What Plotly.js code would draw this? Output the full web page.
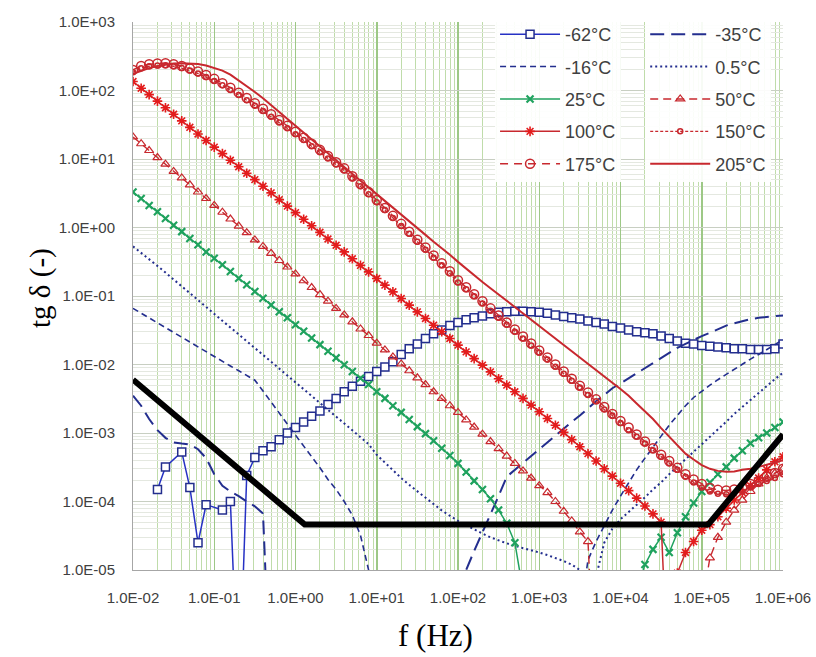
<!DOCTYPE html>
<html>
<head>
<meta charset="utf-8">
<script src="https://cdn.plot.ly/plotly-3.0.1.min.js"></script>
<style>
  html, body { margin: 0; padding: 0; background: #ffffff; }
  #chart { width: 816px; height: 657px; }
</style>
</head>
<body>
<div id="chart"></div>
<script>
// Frequency grid (Hz), 10 points per decade
const FREQ = [
  0.01, 0.0126, 0.0158, 0.02, 0.0251, 0.0316, 0.0398, 0.0501, 0.0631, 0.0794,
  0.1, 0.126, 0.158, 0.2, 0.251, 0.316, 0.398, 0.501, 0.631, 0.794,
  1, 1.26, 1.58, 2, 2.51, 3.16, 3.98, 5.01, 6.31, 7.94,
  10, 12.6, 15.8, 20, 25.1, 31.6, 39.8, 50.1, 63.1, 79.4,
  100, 126, 158, 200, 251, 316, 398, 501, 631, 794,
  1000, 1260, 1580, 2000, 2510, 3160, 3980, 5010, 6310, 7940,
  1e4, 1.26e4, 1.58e4, 2e4, 2.51e4, 3.16e4, 3.98e4, 5.01e4, 6.31e4, 7.94e4,
  1e5, 1.26e5, 1.58e5, 2e5, 2.51e5, 3.16e5, 3.98e5, 5.01e5, 6.31e5, 7.94e5,
  1e6
];

const TD_M62 = [
  null, null, null, 1.5e-4, 3.2e-4, null, 5.3e-4, 1.6e-4, 2.5e-5, 9e-5,
  null, 7.5e-5, 1.0e-4, 1e-7, 2.4e-4, 4.4e-4, 5.5e-4, 6.3e-4, 8.0e-4, 1.0e-3,
  1.2e-3, 1.45e-3, 1.75e-3, 2.1e-3, 2.6e-3, 3.2e-3, 4.0e-3, 4.8e-3, 5.7e-3, 6.7e-3,
  7.9e-3, 9.2e-3, 1.1e-2, 1.4e-2, 1.7e-2, 2.0e-2, 2.4e-2, 2.8e-2, 3.2e-2, 3.7e-2,
  4.1e-2, 4.5e-2, 4.8e-2, 5.1e-2, 5.5e-2, 5.8e-2, 5.9e-2, 6.0e-2, 6.0e-2, 5.9e-2,
  5.8e-2, 5.6e-2, 5.3e-2, 5.0e-2, 4.8e-2, 4.6e-2, 4.3e-2, 4.1e-2, 3.9e-2, 3.6e-2,
  3.4e-2, 3.2e-2, 3.0e-2, 2.9e-2, 2.8e-2, 2.6e-2, 2.4e-2, 2.2e-2, 2.05e-2, 2.0e-2,
  1.9e-2, 1.85e-2, 1.8e-2, 1.75e-2, 1.7e-2, 1.7e-2, 1.65e-2, 1.65e-2, 1.65e-2, 1.7e-2,
  2.0e-2
];

const TD_M35 = [
  3.5e-3, 2.5e-3, 1.6e-3, 1.1e-3, 8.5e-4, 7.3e-4, 7.0e-4, 6.8e-4, 5.8e-4, 4.3e-4,
  2.5e-4, 1.7e-4, 1.4e-4, 1.2e-4, 1.0e-4, 8.5e-5, 6.7e-5, 1e-7, null, null,
  null, null, null, null, null, null, null, null, null, null,
  null, null, null, null, null, null, null, null, null, null,
  3e-7, 1.0e-5, 1.9e-5, 3.5e-5, 6.5e-5, 1.2e-4, 2.3e-4, 2.9e-4, 3.6e-4, 4.6e-4,
  5.8e-4, 7.3e-4, 9.3e-4, 1.16e-3, 1.45e-3, 1.8e-3, 2.3e-3, 2.9e-3, 3.6e-3, 4.5e-3,
  5.3e-3, 6.3e-3, 7.5e-3, 8.9e-3, 1.06e-2, 1.26e-2, 1.5e-2, 1.75e-2, 2.0e-2, 2.3e-2,
  2.6e-2, 2.9e-2, 3.3e-2, 3.7e-2, 4.0e-2, 4.3e-2, 4.6e-2, 4.8e-2, 5.0e-2, 5.1e-2,
  5.2e-2
];

const TD_M16 = [
  6.6e-2, 5.6e-2, 4.8e-2, 4.1e-2, 3.5e-2, 2.95e-2, 2.5e-2, 2.1e-2, 1.8e-2, 1.55e-2,
  1.3e-2, 1.1e-2, 9.5e-3, 8.1e-3, 6.9e-3, 5.9e-3, 4.1e-3, 2.8e-3, 1.95e-3, 1.35e-3,
  9.3e-4, 6.5e-4, 4.5e-4, 3.1e-4, 2.1e-4, 1.5e-4, 1.0e-4, 6.3e-5, 3.2e-5, 1.0e-5,
  1e-7, null, null, null, null, null, null, null, null, null,
  null, null, null, null, null, null, null, null, null, null,
  null, null, null, null, null, 2e-6, 1.4e-5, 2.6e-5, 4.5e-5, 7.5e-5,
  1.2e-4, 1.9e-4, 2.9e-4, 4.3e-4, 6.3e-4, 9e-4, 1.3e-3, 1.8e-3, 2.5e-3, 3.3e-3,
  4.1e-3, 5.0e-3, 6.0e-3, 7.2e-3, 8.6e-3, 1.02e-2, 1.2e-2, 1.4e-2, 1.65e-2, 1.95e-2,
  2.3e-2
];

const TD_P05 = [
  0.53, 0.43, 0.345, 0.275, 0.22, 0.174, 0.138, 0.11, 0.087, 0.069,
  0.055, 0.0437, 0.0347, 0.0275, 0.0219, 0.0174, 0.0138, 0.011, 0.0087, 0.0069,
  5.5e-3, 4.37e-3, 3.47e-3, 2.75e-3, 2.19e-3, 1.74e-3, 1.38e-3, 1.1e-3, 8.7e-4, 6.9e-4,
  4.8e-4, 3.7e-4, 2.8e-4, 2.2e-4, 1.75e-4, 1.4e-4, 1.12e-4, 9e-5, 7.4e-5, 6.2e-5,
  5.2e-5, 4.5e-5, 3.9e-5, 3.4e-5, 3.0e-5, 2.7e-5, 2.45e-5, 2.25e-5, 2.1e-5, 1.95e-5,
  1.8e-5, 1.65e-5, 1.5e-5, 1.35e-5, 1.2e-5, 1.0e-5, 1e-7, 8e-6, 2.5e-5, 4e-5,
  5.5e-5, 7e-5, 9e-5, 1.15e-4, 1.5e-4, 1.9e-4, 2.5e-4, 3.2e-4, 4.1e-4, 5.3e-4,
  6.8e-4, 8.8e-4, 1.13e-3, 1.46e-3, 1.9e-3, 2.4e-3, 3.1e-3, 3.9e-3, 4.9e-3, 6.1e-3,
  7.6e-3
];

const TD_25 = [
  3.3, 2.65, 2.1, 1.7, 1.35, 1.08, 0.87, 0.69, 0.56, 0.44,
  0.355, 0.285, 0.228, 0.182, 0.146, 0.116, 0.093, 0.074, 0.059, 0.048,
  0.038, 0.0305, 0.0244, 0.0195, 0.0156, 0.0125, 0.0099, 0.0079, 0.0063, 0.0051,
  0.0040, 0.0032, 0.0025, 0.0020, 0.00157, 0.00124, 0.00098, 0.00077, 0.0006, 0.00047,
  0.00036, 0.00027, 0.0002, 0.00015, 0.00011, 7.5e-5, 4.8e-5, 2.5e-5, 5e-6, null,
  null, null, null, null, null, null, null, null, null, null,
  null, null, 5e-6, 1.2e-5, 2.0e-5, 3.0e-5, 1.8e-5, 3.5e-5, 6e-5, 9.5e-5,
  1.4e-4, 1.9e-4, 2.5e-4, 3.2e-4, 4.3e-4, 5.5e-4, 7.1e-4, 8.5e-4, 1.0e-3, 1.2e-3,
  1.45e-3
];

const TD_50 = [
  21, 16.7, 13.3, 10.5, 8.4, 6.6, 5.3, 4.2, 3.3, 2.65,
  2.1, 1.67, 1.33, 1.05, 0.84, 0.66, 0.53, 0.42, 0.33, 0.265,
  0.21, 0.167, 0.133, 0.105, 0.084, 0.066, 0.053, 0.042, 0.033, 0.0265,
  0.0205, 0.0163, 0.0129, 0.0102, 0.0081, 0.0064, 0.0051, 0.0040, 0.0032, 0.0025,
  0.0020, 0.00155, 0.00122, 0.00096, 0.00075, 0.00059, 0.00046, 0.00036, 0.00028, 0.00022,
  1.7e-4, 1.35e-4, 1.0e-4, 7.2e-5, 5.2e-5, 3.6e-5, 2.6e-5, 1e-7, null, null,
  null, null, null, null, null, null, null, null, null, null,
  3e-6, 1.5e-5, 3e-5, 5e-5, 7.5e-5, 1.05e-4, 1.4e-4, 1.8e-4, 2.2e-4, 2.6e-4,
  3.0e-4
];

const TD_100 = [
  135, 108, 87, 70, 56, 45, 36, 29, 23.2, 18.6,
  14.9, 12, 9.6, 7.7, 6.2, 5.0, 4.0, 3.2, 2.55, 2.05,
  1.65, 1.32, 1.06, 0.85, 0.68, 0.55, 0.44, 0.35, 0.28, 0.225,
  0.18, 0.144, 0.115, 0.092, 0.0735, 0.0587, 0.047, 0.0375, 0.030, 0.024,
  0.0192, 0.0153, 0.0122, 0.0098, 0.0078, 0.0062, 0.0050, 0.0040, 0.0032, 0.00255,
  0.00204, 0.00163, 0.0013, 0.00102, 0.0008, 0.00063, 0.0005, 0.00039, 0.0003, 0.000235,
  0.000185, 0.000144, 0.000112, 8.6e-5, 6.6e-5, 5e-5, 1e-7, 9e-6, 1.8e-5, 2.6e-5,
  3.8e-5, 4.6e-5, 6e-5, 8e-5, 1.05e-4, 1.35e-4, 1.7e-4, 2.2e-4, 2.9e-4, 3.8e-4,
  4.5e-4
];

const TD_150 = [
  185, 212, 226, 232, 233, 226, 213, 196, 177, 157,
  138, 119, 102, 86, 72, 60, 50, 41.5, 34, 28,
  23, 18.9, 15.4, 12.5, 10.2, 8.3, 6.8, 5.2, 4.0, 3.07,
  2.34, 1.8, 1.38, 1.05, 0.81, 0.62, 0.474, 0.363, 0.28, 0.214,
  0.158, 0.125, 0.099, 0.078, 0.061, 0.048, 0.038, 0.03, 0.024, 0.019,
  0.0149, 0.0118, 0.0093, 0.0073, 0.0058, 0.0046, 0.0036, 0.0029, 0.0022, 0.0018,
  0.0014, 0.0011, 0.00088, 0.0007, 0.00056, 0.00045, 0.00036, 0.00029, 0.00023, 0.00019,
  0.00016, 0.00014, 0.00013, 0.000128, 0.00013, 0.00014, 0.00016, 0.00018, 0.0002, 0.00022,
  0.00025
];

const TD_175 = [
  200, 228, 242, 248, 250, 242, 228, 210, 190, 168,
  148, 128, 110, 93, 78, 65, 54, 45, 37, 30.5,
  25, 20.5, 16.7, 13.6, 11.1, 9.0, 7.3, 5.6, 4.3, 3.3,
  2.52, 1.93, 1.48, 1.13, 0.87, 0.665, 0.51, 0.39, 0.3, 0.23,
  0.17, 0.134, 0.106, 0.084, 0.066, 0.052, 0.041, 0.0325, 0.0257, 0.0203,
  0.016, 0.0127, 0.01, 0.0079, 0.0062, 0.0049, 0.0039, 0.0031, 0.0024, 0.0019,
  0.0015, 0.0012, 0.00095, 0.00075, 0.0006, 0.00048, 0.00039, 0.00031, 0.00025, 0.00021,
  0.00018, 0.000158, 0.000148, 0.000145, 0.00015, 0.00016, 0.00018, 0.0002, 0.00023, 0.00026,
  0.0003
];

const TD_205 = [
  175, 195, 212, 228, 240, 248, 250, 249, 244, 232,
  215, 195, 170, 140, 116, 95, 77, 61, 48.5, 38,
  30, 23.8, 18.9, 15, 11.9, 9.5, 7.6, 6.05, 4.8, 3.85,
  3.05, 2.45, 1.95, 1.55, 1.23, 0.98, 0.78, 0.62, 0.5, 0.4,
  0.315, 0.25, 0.2, 0.16, 0.13, 0.105, 0.085, 0.069, 0.056, 0.045,
  0.0365, 0.0295, 0.024, 0.0194, 0.0157, 0.0127, 0.0103, 0.0083, 0.0067, 0.0054,
  0.0044, 0.0035, 0.0027, 0.0021, 0.0016, 0.00118, 0.00088, 0.00065, 0.0005, 0.00041,
  0.00034, 0.0003, 0.00028, 0.000272, 0.000275, 0.00029, 0.0003, 0.00032, 0.00034, 0.00037,
  0.0004
];

// thick black reference line
const LIMIT_F = [0.01, 1.3, 1.2e5, 1e6];
const LIMIT_V = [6e-3, 4.6e-5, 4.6e-5, 9.5e-4];

const X_TICKS = [1e-2, 1e-1, 1e0, 1e1, 1e2, 1e3, 1e4, 1e5, 1e6];
const X_TICK_TEXT = ['1.0E-02','1.0E-01','1.0E+00','1.0E+01','1.0E+02','1.0E+03','1.0E+04','1.0E+05','1.0E+06'];
const Y_TICKS = [1e-5, 1e-4, 1e-3, 1e-2, 1e-1, 1e0, 1e1, 1e2, 1e3];
const Y_TICK_TEXT = ['1.0E-05','1.0E-04','1.0E-03','1.0E-02','1.0E-01','1.0E+00','1.0E+01','1.0E+02','1.0E+03'];

const BLUE = '#2631c4';
const NAVY = '#232e8e';
const GREEN = '#1fa25e';
const RED = '#c8282e';
const BRIGHT_RED = '#e31c1c';

function tr(name, y, legend, opts) {
  return Object.assign({
    type: 'scatter', x: FREQ, y: y, name: name,
    legend: legend, legendgroup: name,
    hoverinfo: 'skip', cliponaxis: true
  }, opts);
}

const traces = [
  tr('-62°C', TD_M62, 'legend', {
    mode: 'lines+markers', connectgaps: true,
    line: {color: BLUE, width: 1.5},
    marker: {symbol: 'square', size: 8, color: '#ffffff', line: {color: NAVY, width: 1.5}}
  }),
  tr('-35°C', TD_M35, 'legend2', {
    mode: 'lines', connectgaps: false,
    line: {color: NAVY, width: 2, dash: '14px,7px'}
  }),
  tr('-16°C', TD_M16, 'legend', {
    mode: 'lines', connectgaps: false,
    line: {color: NAVY, width: 1.6, dash: '6px,4px'}
  }),
  tr('0.5°C', TD_P05, 'legend2', {
    mode: 'lines', connectgaps: false,
    line: {color: NAVY, width: 2, dash: '2px,3px'}
  }),
  tr('25°C', TD_25, 'legend', {
    mode: 'lines+markers', connectgaps: false,
    line: {color: GREEN, width: 1.5},
    marker: {symbol: 'x-thin-open', size: 7, color: GREEN, line: {color: GREEN, width: 2.2}}
  }),
  tr('50°C', TD_50, 'legend2', {
    mode: 'lines+markers', connectgaps: false,
    line: {color: RED, width: 1.4, dash: '8px,5px'},
    marker: {symbol: 'triangle-up-open', size: 8, color: RED, line: {color: RED, width: 1.2}}
  }),
  tr('100°C', TD_100, 'legend', {
    mode: 'lines+markers', connectgaps: false,
    line: {color: RED, width: 1.5},
    marker: {symbol: 'asterisk-open', size: 8, color: BRIGHT_RED, line: {color: BRIGHT_RED, width: 1.6}}
  }),
  tr('150°C', TD_150, 'legend2', {
    mode: 'lines+markers', connectgaps: false,
    line: {color: RED, width: 1.4, dash: '3px,2px'},
    marker: {symbol: 'circle-open', size: 5, color: RED, line: {color: RED, width: 1.5}}
  }),
  tr('175°C', TD_175, 'legend', {
    mode: 'lines+markers', connectgaps: false,
    line: {color: RED, width: 1.4, dash: '8px,6px'},
    marker: {symbol: 'circle-open', size: 9, color: RED, line: {color: RED, width: 1.5}}
  }),
  tr('205°C', TD_205, 'legend2', {
    mode: 'lines', connectgaps: false,
    line: {color: RED, width: 2}
  }),
  {
    type: 'scatter', x: LIMIT_F, y: LIMIT_V, mode: 'lines',
    line: {color: '#000000', width: 6}, showlegend: false, hoverinfo: 'skip'
  }
];

const tickFont = {family: 'Liberation Sans, Arial, sans-serif', size: 15, color: '#404040'};
const legendFont = {family: 'Liberation Sans, Arial, sans-serif', size: 18, color: '#404040'};

const layout = {
  width: 816, height: 657,
  margin: {l: 133, r: 33, t: 22, b: 87, pad: 0},
  paper_bgcolor: '#ffffff', plot_bgcolor: '#ffffff',
  showlegend: true,
  xaxis: {
    type: 'log', range: [-2, 6],
    tickmode: 'array', tickvals: X_TICKS, ticktext: X_TICK_TEXT,
    tickfont: tickFont, ticks: '', ticklabelstandoff: 14,
    showgrid: true, gridcolor: '#9dc886', gridwidth: 1.5,
    minor: {dtick: 'D1', showgrid: true, gridcolor: '#bfdcaa', gridwidth: 1, ticks: ''},
    showline: true, linecolor: '#a6a6a6', linewidth: 1, mirror: false,
    zeroline: false, fixedrange: true
  },
  yaxis: {
    type: 'log', range: [-5, 3],
    tickmode: 'array', tickvals: Y_TICKS, ticktext: Y_TICK_TEXT,
    tickfont: tickFont, ticks: '', ticklabelstandoff: 14,
    showgrid: true, gridcolor: '#c8cfc2', gridwidth: 1,
    minor: {dtick: 'D1', showgrid: true, gridcolor: '#e4e8e0', gridwidth: 1, ticks: ''},
    showline: true, linecolor: '#a6a6a6', linewidth: 1, mirror: false,
    zeroline: false, fixedrange: true
  },
  legend: {
    x: 0.557, y: 1.011, xanchor: 'left', yanchor: 'top',
    bgcolor: 'rgba(255,255,255,0.92)', borderwidth: 0,
    font: legendFont, itemwidth: 60, tracegroupgap: 6,
    traceorder: 'grouped', itemclick: false, itemdoubleclick: false
  },
  legend2: {
    x: 0.788, y: 1.011, xanchor: 'left', yanchor: 'top',
    bgcolor: 'rgba(255,255,255,0.92)', borderwidth: 0,
    font: legendFont, itemwidth: 60, tracegroupgap: 6,
    traceorder: 'grouped', itemclick: false, itemdoubleclick: false
  },
  annotations: [
    {
      text: 'f (Hz)', xref: 'paper', yref: 'paper',
      x: (435 - 133) / 650, y: -(635 - 570) / 548,
      xanchor: 'center', yanchor: 'middle', showarrow: false,
      font: {family: 'Liberation Serif, Times New Roman, serif', size: 31, color: '#000000'}
    },
    {
      text: 'tg δ (-)', xref: 'paper', yref: 'paper',
      x: -(133 - 40) / 650, y: (570 - 288) / 548,
      xanchor: 'center', yanchor: 'middle', showarrow: false, textangle: -90,
      font: {family: 'Liberation Serif, Times New Roman, serif', size: 29, color: '#000000'}
    }
  ]
};

Plotly.newPlot('chart', traces, layout, {staticPlot: true, displayModeBar: false});
</script>
</body>
</html>
